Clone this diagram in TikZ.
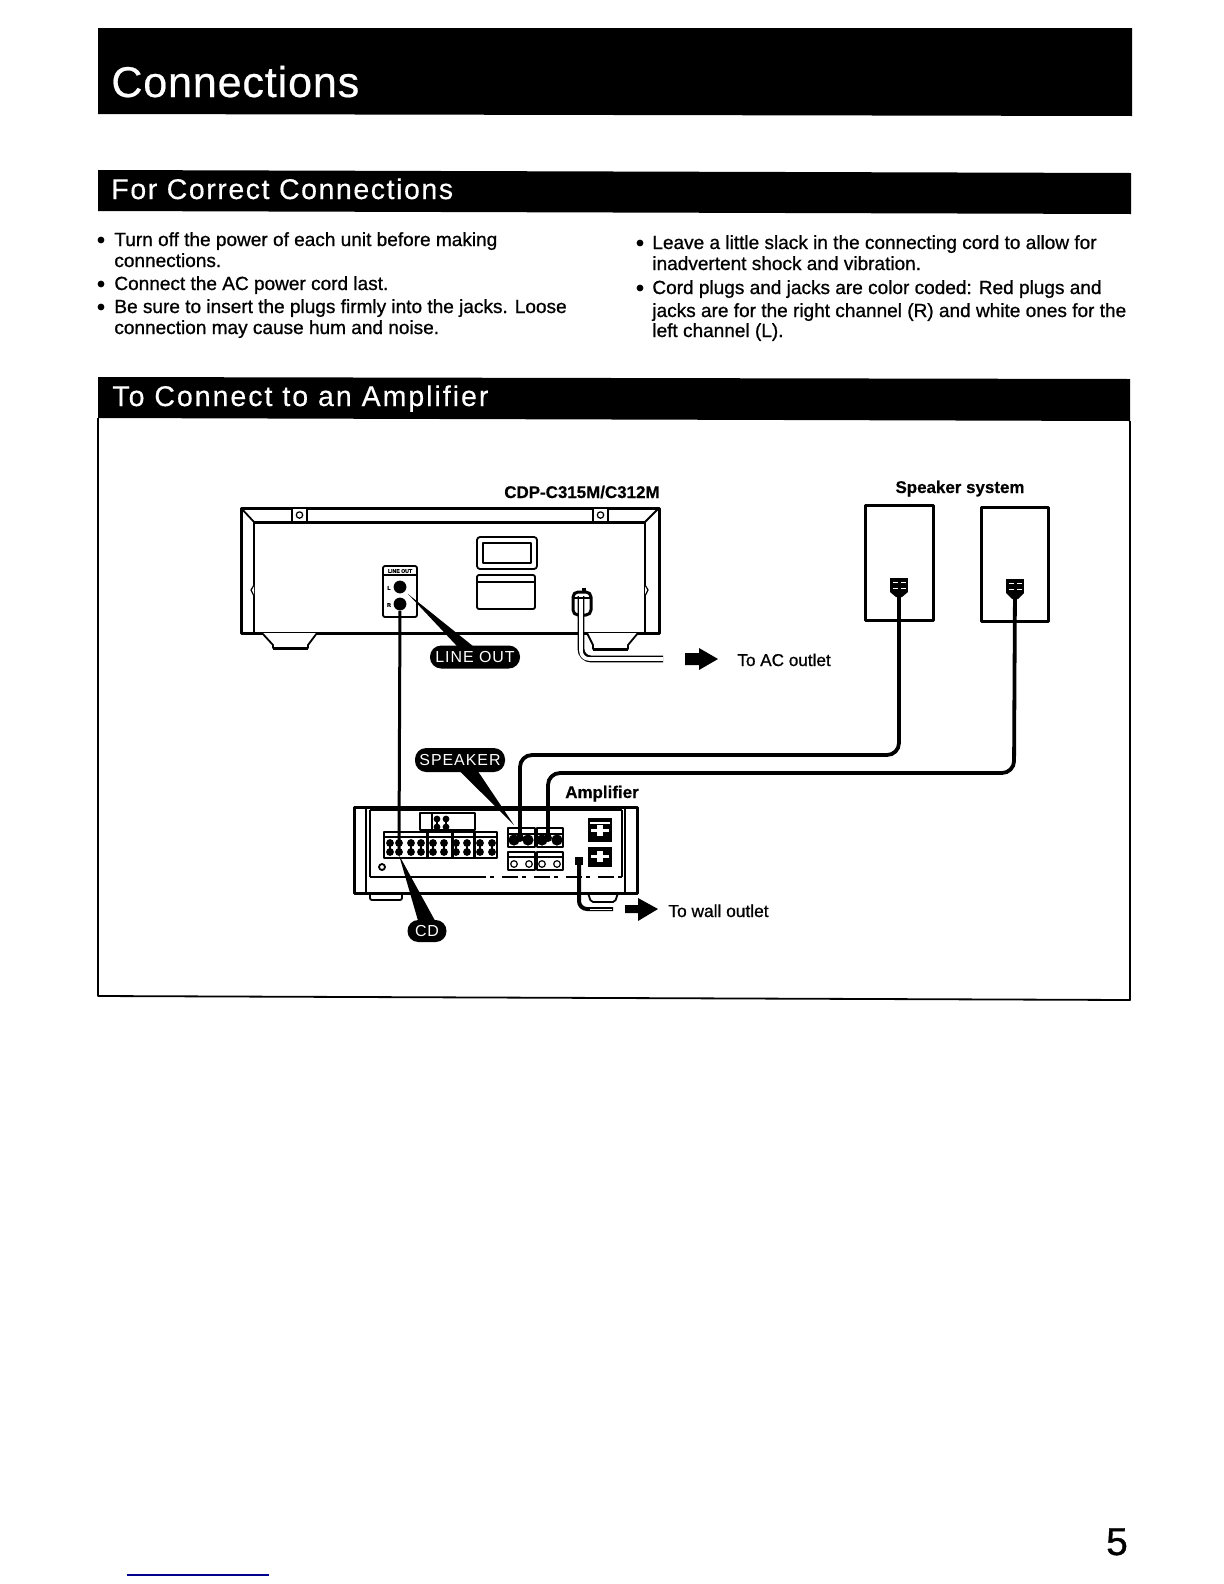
\documentclass[tikz,border=0pt]{standalone}
\usepackage{fontspec}
\usetikzlibrary{calc}
\setmainfont{Liberation Sans}
\newfontfamily\bodyfont[FakeBold=0.9]{Liberation Sans}
\newfontfamily\headfont[LetterSpace=5.5,FakeBold=0.4]{Liberation Sans}
\newfontfamily\headfontb[LetterSpace=7,FakeBold=0.4]{Liberation Sans}
\newfontfamily\titlefont[LetterSpace=2,FakeBold=0.5]{Liberation Sans}
\newfontfamily\labelfont[FakeBold=0.6]{Liberation Sans Bold}
\newfontfamily\pillfont[LetterSpace=6]{Liberation Sans}
\tikzset{
  bar/.style={fill=black,draw=none},
  title text/.style={anchor=base west,text=white,inner sep=0pt,font=\titlefont\fontsize{21.6}{24}\selectfont},
  head text/.style={anchor=base west,text=white,inner sep=0pt,font=\headfont\fontsize{14.3}{15}\selectfont},
  body text/.style={anchor=base west,inner sep=0pt,font=\bodyfont\fontsize{9.55}{11}\selectfont},
  bullet dot/.style={circle,fill=black,inner sep=0pt,minimum size=3.4bp},
  tag/.style={anchor=base,inner sep=0pt,font=\labelfont\fontsize{8.5}{10}\selectfont},
  pill/.style={fill=black,text=white,rounded corners=5.6bp,inner sep=0pt,font=\pillfont\fontsize{8}{9}\selectfont},
  heavy/.style={line width=1.5bp,line join=round},
  mid/.style={line width=.9bp,line join=round},
  fine/.style={line width=.6bp,line join=round},
  cable/.style={line width=1.9bp,rounded corners=6bp},
}
\begin{document}
\begin{tikzpicture}[x=.5bp,y=-.5bp]
\useasboundingbox (0,0) rectangle (1224,1584);
% header bars
\fill[bar] (98,28) -- (1132,28) -- (1132,116) -- (98,114) -- cycle;
\node[title text] (t1) at (111,97) {Connections};
\fill[bar] (98,170) -- (1131,173) -- (1131,214) -- (98,211) -- cycle;
\node[head text] (t2) at (111,199) {For Correct Connections};
\fill[bar] (98,377) -- (1130,379) -- (1130,421) -- (98,418) -- cycle;
\node[head text,font=\headfontb\fontsize{14.3}{15}\selectfont] (t3) at (112,406) {To Connect to an Amplifier};
\draw[mid] (98,418) -- (98,996) -- (1130,1000) -- (1130,421);
% bullets
\foreach \n/\y in {a/240,b/284,c/307} \node[bullet dot] (d\n) at (101,\y) {};
\foreach \n/\y in {d/243,e/288} \node[bullet dot] (d\n) at (640,\y) {};
\node[body text] (l1) at (114,246) {Turn off the power of each unit before making};
\node[body text] (l2) at (114,267) {connections.};
\node[body text] (l3) at (114,290) {Connect the AC power cord last.};
\node[body text] (l4) at (114,313) {Be sure to insert the plugs firmly into the jacks. Loose};
\node[body text] (l5) at (114,334) {connection may cause hum and noise.};
\node[body text] (r1) at (652,249) {Leave a little slack in the connecting cord to allow for};
\node[body text] (r2) at (652,270) {inadvertent shock and vibration.};
\node[body text] (r3) at (652,294) {Cord plugs and jacks are color coded: Red plugs and};
\node[body text] (r4) at (652,317) {jacks are for the right channel (R) and white ones for the};
\node[body text] (r5) at (652,337) {left channel (L).};
% labels
\node[tag,anchor=base east] (cdp) at (660,498) {CDP-C315M/C312M};
\node[tag] (spk) at (960,493) {Speaker system};
\node[tag] (amp) at (602,798) {Amplifier};
\node[tag,anchor=base west,font=\bodyfont\fontsize{8.6}{10}\selectfont] (ac) at (737,666) {To AC outlet};
\node[tag,anchor=base west,font=\bodyfont\fontsize{8.7}{10}\selectfont] (wall) at (668,917) {To wall outlet};
% CD player
\draw[heavy] (241,508) rectangle (659,633);
\draw[mid] (241,508) -- (254,522) -- (254,633) (659,508) -- (645,522) -- (645,633);
\draw[heavy] (254,522) -- (645,522);
\foreach \x in {292,593} {
  \draw[mid,fill=white] (\x,508) rectangle (\x+15,522);
  \draw[fine] (\x+7.5,515) circle (3.2);
}
\draw[fine,fill=white] (254,585) -- (251,590) -- (254,596);
\draw[fine,fill=white] (645,585) -- (648,590) -- (645,596);
\draw[mid,fill=white] (262,633) -- (273,645) -- (273,648) -- (308,648) -- (308,645) -- (317,633);
\draw[heavy] (273,648) -- (308,648);
\draw[mid,fill=white] (587,633) -- (593,645) -- (593,649) -- (628,649) -- (628,645) -- (638,633);
\draw[heavy] (593,649) -- (628,649);
\draw[mid,rounded corners=1.5bp] (477,537) rectangle (537,569);
\draw[mid] (483,543) rectangle (531,563);
\draw[mid,rounded corners=1bp] (477,575) rectangle (535,609);
\draw[fine] (477,582) -- (535,582);
\draw[mid,rounded corners=1bp] (383,566) rectangle (417,617);
\draw[mid] (383,575) -- (417,575);
\node[inner sep=0pt,font=\labelfont\fontsize{2.6}{3}\selectfont] (lo) at (400,571) {LINE OUT};
\node[inner sep=0pt,font=\labelfont\fontsize{2.6}{3}\selectfont] (ll) at (389,588) {L};
\node[inner sep=0pt,font=\labelfont\fontsize{2.6}{3}\selectfont] (lr) at (389,605) {R};
\node[circle,fill=black,inner sep=0pt,minimum size=6.4bp] (jackL) at (400,587) {};
\node[circle,fill=black,inner sep=0pt,minimum size=6.4bp] (jackR) at (400,604) {};
% AC plug and cord
\draw[heavy,fill=white,rounded corners=2.5bp] (573,592) rectangle (591,615);
\fill (582,588) rectangle (586,593);
\coordinate (acPlug) at (581,596);
\coordinate (acEnd) at (663,659);
\draw[line width=3.4bp,rounded corners=5bp] (acPlug) |- (acEnd);
\draw[white,line width=1.8bp,rounded corners=4bp] (acPlug) |- (acEnd);
\draw[mid] (573,598) -- (591,598);
% AC arrow
\fill (685,653) -- (699,653) -- (699,648) -- (718,659) -- (699,670) -- (699,665) -- (685,665) -- cycle;
% speakers
\draw[heavy] (865,505) rectangle (933,620);
\draw[heavy] (981,507) rectangle (1048,621);
\node[fill=black,inner sep=0pt,minimum width=9bp,minimum height=7bp] (tL) at (899,585) {};
\node[fill=black,inner sep=0pt,minimum width=9bp,minimum height=7bp] (tR) at (1015,586) {};
\fill (890,592) -- (908,592) -- (902,597) -- (896,597) -- cycle;
\fill (1006,593) -- (1024,593) -- (1018,599) -- (1012,599) -- cycle;
\foreach \x in {893,901} { \draw[white,line width=.3bp] (\x,582) -- +(5,0) (\x,588) -- +(5,0); }
\foreach \x in {1009,1017} { \draw[white,line width=.4bp] (\x,583) -- +(5,0) (\x,589) -- +(5,0); }
% amplifier
\draw[heavy] (354,807) rectangle (637,893);
\draw[mid] (366,807) -- (366,893) (625,807) -- (625,893);
\draw[fine] (370,810) -- (370,877) (622,810) -- (622,877);
\draw[mid] (370,810) -- (622,810);
\draw[mid] (370,877) -- (470,877);
\draw[fine,dash pattern=on 8bp off 2bp on 2bp off 4bp] (470,877) -- (622,877);
\draw[mid,rounded corners=1bp] (370,893) -- (370,900) -- (402,900) -- (402,893);
\draw[mid,rounded corners=1bp] (588,893) -- (591,902) -- (615,902) -- (618,893);
% top jack block
\draw[mid] (420,813) rectangle (475,830);
\draw[mid] (432,813) -- (432,830);
\foreach \x in {437,446} {
  \foreach \y in {819,827} \fill (\x,\y) circle (3.4);
  \draw[mid] (\x,819) -- (\x,827);
}
% RCA panel
\draw[mid] (384,832) rectangle (497,858);
\draw[mid] (384,837) -- (497,837);
\foreach \x in {427,452,474} \draw[heavy] (\x,832) -- (\x,858);
\foreach \x in {390,399,411,421,433,444,456,467,480,492} {
  \foreach \y in {843,852} \fill (\x,\y) circle (3.9);
  \draw[mid] (\x,843) -- (\x,852);
}
\draw[mid] (382,867) circle (3);
% speaker terminals
\foreach \a/\b in {508/535,537/563} {
  \draw[mid] (\a,828) rectangle (\b,847);
  \draw[fine] (\a,834) -- (\b,834);
  \draw[mid] (\a,852) rectangle (\b,870);
  \draw[fine] (\a,857) -- (\b,857);
}
\foreach \x in {514,528,542,557} \fill (\x,840) circle (5.6);
\foreach \x in {514,529,542,557} \draw[fine,fill=white] (\x,864) circle (3.3);
\node[circle,fill=black,inner sep=0pt,minimum size=4bp] (ampA) at (520,838) {};
\node[circle,fill=black,inner sep=0pt,minimum size=4bp] (ampB) at (548,838) {};
% right panel
\fill (588,818) rectangle (612,842);
\fill (588,847) rectangle (612,867);
\foreach \y in {829,855} {
  \fill[white] (591,\y) rectangle (609,\y+3);
  \fill[white] (597,\y-4) rectangle (603,\y+7);
}
\fill[white] (590,822) rectangle (610,824);
% amp plug and power cord
\node[fill=black,inner sep=0pt,minimum width=4bp,minimum height=4.4bp] (ampPlug) at (579,861) {};
\coordinate (wallEnd) at (613,909);
\draw[line width=2bp,rounded corners=4bp] (ampPlug.center) |- (wallEnd);
\draw[white,line width=.4bp] (590,909) -- (612,909);
% wall arrow
\fill (625,905) -- (638,905) -- (638,898) -- (658,909) -- (638,921) -- (638,913) -- (625,913) -- cycle;
% cables
\coordinate (c1) at (899,755);
\coordinate (c2) at (1014,773);
\draw[cable] (ampA) |- (c1) -- (tL);
\draw[cable] (ampB) |- (c2) -- (tR);
\draw[heavy] (jackR) -- (399,852);
% callouts
\node[pill,minimum width=45bp,minimum height=11.5bp] (pLine) at (475,657) {LINE OUT};
\node[pill,minimum width=45bp,minimum height=12bp] (pSpk) at (460,760) {SPEAKER};
\node[pill,minimum width=19.5bp,minimum height=11bp,rounded corners=5.4bp] (pCD) at (427,931) {CD};
\coordinate (wLine) at (408,594);
\coordinate (wSpk) at (514,825);
\coordinate (wCD) at (399,855);
\fill (wLine) -- ($(pLine.north)+(-18,1)$) -- ($(pLine.north)+(-2,1)$) -- cycle;
\fill (wSpk) -- ($(pSpk.south)+(0,-1)$) -- ($(pSpk.south)+(18,-1)$) -- cycle;
\fill (wCD) -- ($(pCD.north)+(-9,1)$) -- ($(pCD.north)+(8,1)$) -- cycle;
% page number and rule
\node[anchor=base,inner sep=0pt,font=\bodyfont\fontsize{19.5}{21}\selectfont] (pg) at (1117,1555) {5};
\coordinate (ruleA) at (127,1575);
\coordinate (ruleB) at (269,1575);
\draw[color={rgb,255:red,0;green,0;blue,140},line width=.7bp] (ruleA) -- (ruleB);
\end{tikzpicture}
\end{document}
